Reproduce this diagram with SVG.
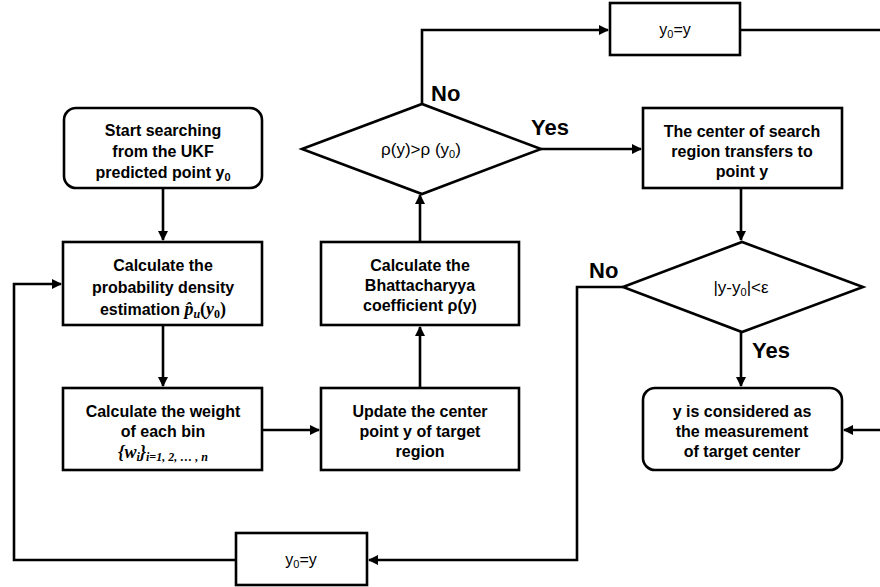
<svg xmlns="http://www.w3.org/2000/svg" width="880" height="587" viewBox="0 0 880 587">
<defs>
<marker id="ah" markerWidth="10" markerHeight="10" refX="9" refY="5" orient="auto" markerUnits="userSpaceOnUse" viewBox="0 0 10 10">
<path d="M0,0 L10,5 L0,10 Z" fill="#000"/>
</marker>
<style>
.box{fill:#fff;stroke:#000;stroke-width:2.6}
.t{font-family:"Liberation Sans",Arial,sans-serif;font-weight:bold;font-size:16px;text-anchor:middle;fill:#000}
.d{font-family:"Liberation Sans",Arial,sans-serif;font-size:17px;text-anchor:middle;fill:#000}
.a{font-family:"Liberation Sans",Arial,sans-serif;font-size:16px;text-anchor:middle;fill:#000}
.m{font-family:"Liberation Serif","Times New Roman",serif;font-weight:bold;font-style:italic;font-size:18px;fill:#000}
.lb{font-family:"Liberation Sans",Arial,sans-serif;font-weight:bold;font-size:22px;fill:#000}
.c{fill:none;stroke:#000;stroke-width:2.6}
</style>
</defs>
<rect width="880" height="587" fill="#fff"/>
<g id="connectors">
<path class="c" d="M163,188 V240" marker-end="url(#ah)"/>
<path class="c" d="M163,325 V386" marker-end="url(#ah)"/>
<path class="c" d="M262,430 H319" marker-end="url(#ah)"/>
<path class="c" d="M420,388 V327" marker-end="url(#ah)"/>
<path class="c" d="M420,242 V195" marker-end="url(#ah)"/>
<path class="c" d="M422,104 V30 H608" marker-end="url(#ah)"/>
<path class="c" d="M740,30 H880"/>
<path class="c" d="M541,149 H641" marker-end="url(#ah)"/>
<path class="c" d="M741,188 V240" marker-end="url(#ah)"/>
<path class="c" d="M741,332 V386" marker-end="url(#ah)"/>
<path class="c" d="M880,430 H844" marker-end="url(#ah)"/>
<path class="c" d="M623,287 H577 V560 H369" marker-end="url(#ah)"/>
<path class="c" d="M236,560 H14 V284 H61" marker-end="url(#ah)"/>
<text class="lb" x="431" y="101">No</text>
<text class="lb" x="531" y="135">Yes</text>
<text class="lb" x="589" y="278">No</text>
<text class="lb" x="752" y="358">Yes</text>
</g>
<g id="start">
<rect class="box" x="64" y="108" width="198" height="80" rx="12"/>
<text class="t" x="163" y="136">Start searching</text>
<text class="t" x="163" y="157">from the UKF</text>
<text class="t" x="163" y="178">predicted point y<tspan font-size="11" dy="3">0</tspan></text>
</g>
<g id="prob">
<rect class="box" x="63" y="242" width="199" height="83"/>
<text class="t" x="163" y="271">Calculate the</text>
<text class="t" x="163" y="293">probability density</text>
<text class="t" x="163" y="315">estimation <tspan class="m">p̂<tspan font-size="12" dy="3">u</tspan><tspan dy="-3" font-style="normal">(</tspan><tspan>y</tspan><tspan font-size="12" dy="3" font-style="normal">0</tspan><tspan dy="-3" font-style="normal">)</tspan></tspan></text>
</g>
<g id="weight">
<rect class="box" x="63" y="388" width="199" height="82"/>
<text class="t" x="163" y="417">Calculate the weight</text>
<text class="t" x="163" y="437">of each bin</text>
<text class="m" x="163" y="458" text-anchor="middle" font-style="normal">{<tspan font-style="italic">w<tspan font-size="12" dy="3">i</tspan></tspan><tspan dy="-3">}</tspan><tspan font-size="12" dy="3" font-style="italic">i</tspan><tspan font-size="12">=1, 2, … , </tspan><tspan font-size="12" font-style="italic">n</tspan></text>
</g>
<g id="update">
<rect class="box" x="321" y="388" width="198" height="82"/>
<text class="t" x="420" y="417">Update the center</text>
<text class="t" x="420" y="437">point y of target</text>
<text class="t" x="420" y="457">region</text>
</g>
<g id="bhatt">
<rect class="box" x="321" y="242" width="198" height="83"/>
<text class="t" x="420" y="271">Calculate the</text>
<text class="t" x="420" y="291">Bhattacharyya</text>
<text class="t" x="420" y="311">coefficient ρ(y)</text>
</g>
<g id="decision1">
<polygon class="box" points="302,149 422,104 541,149 422,194"/>
<text class="d" x="421" y="155">ρ(y)&gt;ρ (y<tspan font-size="11" dy="3">0</tspan><tspan dy="-3">)</tspan></text>
</g>
<g id="assign1">
<rect class="box" x="610" y="3" width="130" height="52"/>
<text class="a" x="675" y="35">y<tspan font-size="11" dy="3">0</tspan><tspan dy="-3">=y</tspan></text>
</g>
<g id="center">
<rect class="box" x="643" y="108" width="199" height="80"/>
<text class="t" x="742" y="137">The center of search</text>
<text class="t" x="742" y="157">region transfers to</text>
<text class="t" x="742" y="177">point y</text>
</g>
<g id="decision2">
<polygon class="box" points="623,287 742,242 863,287 742,332"/>
<text class="d" x="741" y="293">|y-y<tspan font-size="11" dy="3">0</tspan><tspan dy="-3">|&lt;ε</tspan></text>
</g>
<g id="final">
<rect class="box" x="643" y="388" width="199" height="82" rx="12"/>
<text class="t" x="742" y="417">y is considered as</text>
<text class="t" x="742" y="437">the measurement</text>
<text class="t" x="742" y="457">of target center</text>
</g>
<g id="assign2">
<rect class="box" x="236" y="533" width="131" height="52"/>
<text class="a" x="301" y="565">y<tspan font-size="11" dy="3">0</tspan><tspan dy="-3">=y</tspan></text>
</g>
</svg>
